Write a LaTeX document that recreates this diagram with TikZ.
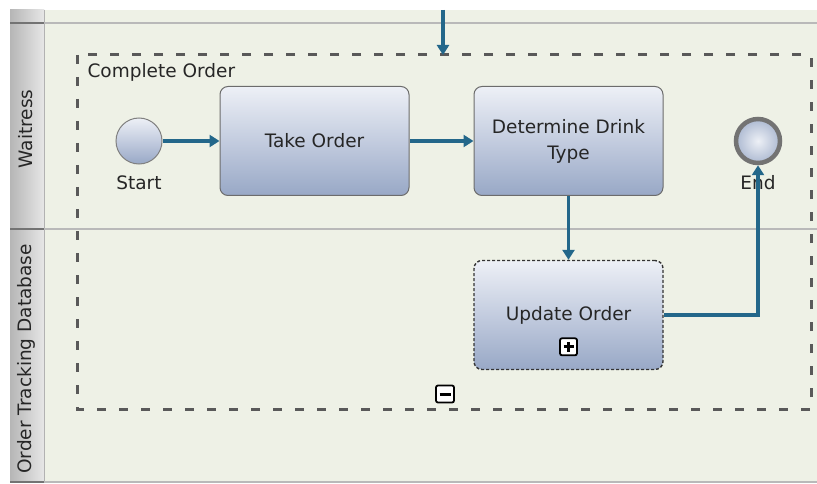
\documentclass[tikz,border=0pt]{standalone}
\usepackage{fontspec}
\setmainfont{DejaVu Sans}
\usepackage{tikz}
\usetikzlibrary{positioning,arrows.meta,shapes.misc}

\definecolor{lanebg}{HTML}{EEF1E6}
\definecolor{headbg}{HTML}{D6D6D6}
\definecolor{flow}{HTML}{23678A}
\definecolor{glosstop}{HTML}{EDF0F6}
\definecolor{glossmid}{HTML}{C3CCDF}
\definecolor{glossbot}{HTML}{98A8C6}
\definecolor{textgray}{HTML}{262626}

\begin{document}
\begin{tikzpicture}[x=1pt,y=-1pt,node distance=2cm,on grid,
    font=\fontsize{18.5}{26}\selectfont,text=textgray,
    >={Triangle[length=10pt,width=12pt]},
    task/.style={rectangle,rounded corners=8pt,draw=gray!85!black,line width=1pt,
      minimum width=189pt,minimum height=109pt,align=center,
      top color=glosstop,bottom color=glossbot,middle color=glossmid},
    startev/.style={circle,draw=gray,line width=1pt,minimum size=46pt,inner sep=0pt,
      top color=glosstop,bottom color=glossbot,middle color=glossmid},
    endev/.style={circle,draw=gray!90!black,line width=4.5pt,minimum size=44pt,inner sep=0pt,
      inner color=glosstop,outer color=glossbot!80!white},
    marker/.style={rectangle,rounded corners=2pt,draw=black,line width=1.8pt,fill=white,
      minimum size=17pt,inner sep=0pt},
    lanetitle/.style={rotate=90,anchor=center},
    flowline/.style={->,draw=flow,line width=3.2pt}]
  \useasboundingbox[fill=white] (0,0) rectangle (817,484);

  % lanes
  \fill[lanebg] (44,10) rectangle (817,482);
  \shade[left color=headbg!85!black,right color=headbg!60!white] (10,10) rectangle (44,482);
  \draw[gray!60,line width=1pt] (44,10) -- (44,482);
  \foreach \yy in {23,229,482}{
    \draw[gray!55,line width=2.5pt] (44,\yy) -- (817,\yy);
    \draw[gray!90!black,line width=2.5pt] (10,\yy) -- (44,\yy);
  }
  \node[lanetitle] (waitress) at (26,129) {Waitress};
  \node[lanetitle] (database) at (26,359) {Order Tracking Database};

  % sub-process
  \draw[gray!70!black,line width=3pt,dash pattern=on 9pt off 13pt]
    (77,55) rectangle (811,409);
  \coordinate (sub_top) at (443,55);
  \coordinate (incoming) at (443,10);
  \node[anchor=north west] (sublabel) at (84,60) {Complete Order};

  % flow nodes
  \node[startev] (start) at (139,141) {};
  \node[task] (take)   [right=175.5pt of start] {Take Order};
  \node[task] (drink)  [right=254pt of take]    {Determine Drink\\Type};
  \node[endev] (done)  [right=189.5pt of drink] {};
  \node[task,dash pattern=on 3pt off 2pt,draw=black!80,line width=1.4pt]
    (update) [below=174pt of drink] {Update Order};
  \node (startlabel) [below=42pt of start] {Start};
  \node (endlabel)   [below=42pt of done]  {End};

  % markers
  \node[marker] (expand) [above=14pt of update.south] {};
  \draw[line width=3pt] ([xshift=-5pt]expand.center) -- ([xshift=5pt]expand.center)
    ([yshift=-5pt]expand.center) -- ([yshift=5pt]expand.center);
  \node[marker,minimum width=18pt,minimum height=17pt] (collapse) at (445,394) {};
  \draw[line width=3pt] ([xshift=-5.5pt]collapse.center) -- ([xshift=5.5pt]collapse.center);

  % sequence flows
  \path
    (incoming) edge[flowline] (sub_top)
    (start) edge[flowline] (take)
    (take) edge[flowline] (drink)
    (drink) edge[flowline] (update);
  \draw[flowline] (update.east) -| (done.south);
\end{tikzpicture}
\end{document}
